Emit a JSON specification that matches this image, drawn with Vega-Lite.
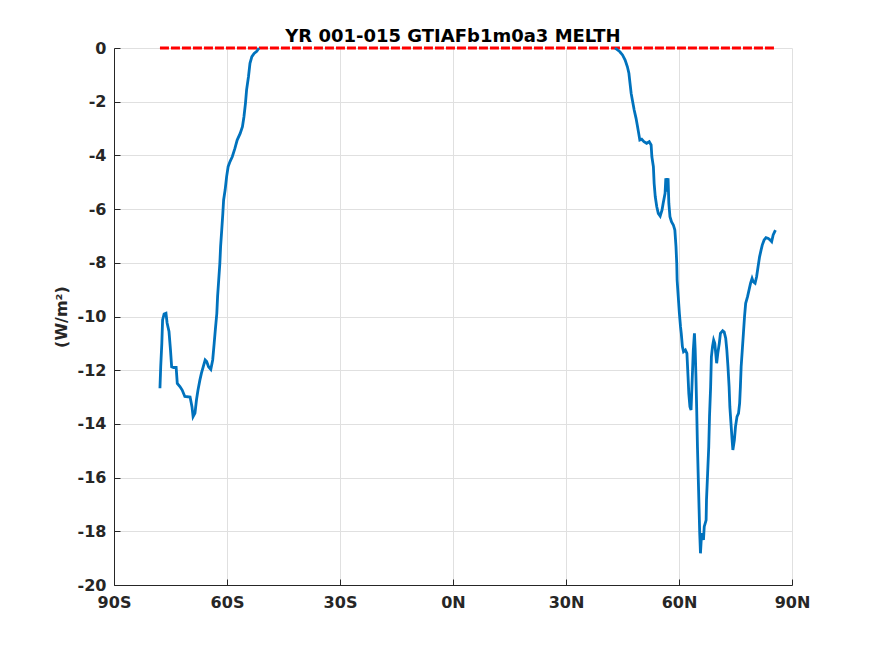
{
  "$schema": "https://vega.github.io/schema/vega-lite/v6.json",
  "autosize": {"type": "none"},
  "width": 678,
  "height": 537,
  "padding": {"left": 114, "top": 48, "right": 83, "bottom": 71},
  "background": "white",
  "title": {
    "text": "YR 001-015 GTIAFb1m0a3 MELTH",
    "font": "DejaVu Sans",
    "fontSize": 18,
    "fontWeight": "bold",
    "color": "#000000",
    "baseline": "alphabetic",
    "offset": 6,
    "dy": 26,
    "anchor": "middle"
  },
  "config": {
    "view": {"stroke": null},
    "axis": {
      "labelFont": "DejaVu Sans",
      "labelFontSize": 16,
      "labelFontWeight": "bold",
      "labelColor": "#262626",
      "titleFont": "DejaVu Sans",
      "titleFontSize": 16,
      "titleFontWeight": "bold",
      "titleColor": "#262626",
      "domainColor": "#262626",
      "domainWidth": 1,
      "tickColor": "#262626",
      "gridColor": "#e0e0e0",
      "gridWidth": 1
    }
  },
  "resolve": {"axis": {"x": "independent", "y": "independent"}},
  "datasets": {
    "melt": [
      {"seg": "S", "lat": -77.8, "v": -12.67},
      {"seg": "S", "lat": -77.6, "v": -11.87},
      {"seg": "S", "lat": -77.3, "v": -10.99},
      {"seg": "S", "lat": -77.1, "v": -10.13},
      {"seg": "S", "lat": -76.7, "v": -9.91},
      {"seg": "S", "lat": -76.2, "v": -9.88},
      {"seg": "S", "lat": -75.9, "v": -10.24},
      {"seg": "S", "lat": -75.4, "v": -10.56},
      {"seg": "S", "lat": -75.0, "v": -11.25},
      {"seg": "S", "lat": -74.7, "v": -11.87},
      {"seg": "S", "lat": -74.2, "v": -11.9},
      {"seg": "S", "lat": -73.5, "v": -11.9},
      {"seg": "S", "lat": -73.2, "v": -12.49},
      {"seg": "S", "lat": -72.5, "v": -12.61},
      {"seg": "S", "lat": -71.9, "v": -12.74},
      {"seg": "S", "lat": -71.2, "v": -12.98},
      {"seg": "S", "lat": -69.8, "v": -13.0},
      {"seg": "S", "lat": -69.3, "v": -13.36},
      {"seg": "S", "lat": -69.0, "v": -13.73},
      {"seg": "S", "lat": -68.5, "v": -13.6},
      {"seg": "S", "lat": -68.1, "v": -13.1},
      {"seg": "S", "lat": -67.7, "v": -12.74},
      {"seg": "S", "lat": -67.2, "v": -12.37},
      {"seg": "S", "lat": -66.8, "v": -12.12},
      {"seg": "S", "lat": -66.3, "v": -11.87},
      {"seg": "S", "lat": -65.8, "v": -11.62},
      {"seg": "S", "lat": -65.4, "v": -11.68},
      {"seg": "S", "lat": -64.9, "v": -11.87},
      {"seg": "S", "lat": -64.3, "v": -11.97},
      {"seg": "S", "lat": -63.8, "v": -11.62},
      {"seg": "S", "lat": -63.4, "v": -10.99},
      {"seg": "S", "lat": -63.1, "v": -10.5},
      {"seg": "S", "lat": -62.7, "v": -9.88},
      {"seg": "S", "lat": -62.5, "v": -9.26},
      {"seg": "S", "lat": -62.2, "v": -8.64},
      {"seg": "S", "lat": -61.9, "v": -8.02},
      {"seg": "S", "lat": -61.7, "v": -7.4},
      {"seg": "S", "lat": -61.4, "v": -6.78},
      {"seg": "S", "lat": -61.1, "v": -6.15},
      {"seg": "S", "lat": -60.9, "v": -5.66},
      {"seg": "S", "lat": -60.5, "v": -5.29},
      {"seg": "S", "lat": -60.1, "v": -4.79},
      {"seg": "S", "lat": -59.7, "v": -4.42},
      {"seg": "S", "lat": -59.2, "v": -4.23},
      {"seg": "S", "lat": -58.6, "v": -4.05},
      {"seg": "S", "lat": -57.9, "v": -3.74},
      {"seg": "S", "lat": -57.3, "v": -3.43},
      {"seg": "S", "lat": -56.5, "v": -3.18},
      {"seg": "S", "lat": -55.9, "v": -2.93},
      {"seg": "S", "lat": -55.5, "v": -2.56},
      {"seg": "S", "lat": -55.1, "v": -2.06},
      {"seg": "S", "lat": -54.8, "v": -1.56},
      {"seg": "S", "lat": -54.3, "v": -1.07},
      {"seg": "S", "lat": -53.9, "v": -0.57},
      {"seg": "S", "lat": -53.4, "v": -0.32},
      {"seg": "S", "lat": -52.8, "v": -0.2},
      {"seg": "S", "lat": -52.1, "v": -0.12},
      {"seg": "S", "lat": -51.5, "v": 0},
      {"seg": "N", "lat": 43.0, "v": 0},
      {"seg": "N", "lat": 44.3, "v": -0.14},
      {"seg": "N", "lat": 45.0, "v": -0.26},
      {"seg": "N", "lat": 45.7, "v": -0.45},
      {"seg": "N", "lat": 46.3, "v": -0.7},
      {"seg": "N", "lat": 46.7, "v": -0.94},
      {"seg": "N", "lat": 47.0, "v": -1.32},
      {"seg": "N", "lat": 47.3, "v": -1.69},
      {"seg": "N", "lat": 47.7, "v": -2.0},
      {"seg": "N", "lat": 48.1, "v": -2.31},
      {"seg": "N", "lat": 48.6, "v": -2.62},
      {"seg": "N", "lat": 49.0, "v": -2.93},
      {"seg": "N", "lat": 49.3, "v": -3.18},
      {"seg": "N", "lat": 49.6, "v": -3.43},
      {"seg": "N", "lat": 50.1, "v": -3.4},
      {"seg": "N", "lat": 50.7, "v": -3.49},
      {"seg": "N", "lat": 51.4, "v": -3.55},
      {"seg": "N", "lat": 52.1, "v": -3.49},
      {"seg": "N", "lat": 52.6, "v": -3.61},
      {"seg": "N", "lat": 52.8, "v": -4.05},
      {"seg": "N", "lat": 53.2, "v": -4.42},
      {"seg": "N", "lat": 53.4, "v": -5.04},
      {"seg": "N", "lat": 53.7, "v": -5.54},
      {"seg": "N", "lat": 54.1, "v": -5.91},
      {"seg": "N", "lat": 54.5, "v": -6.16},
      {"seg": "N", "lat": 55.0, "v": -6.26},
      {"seg": "N", "lat": 55.5, "v": -6.03},
      {"seg": "N", "lat": 55.8, "v": -5.78},
      {"seg": "N", "lat": 56.3, "v": -5.41},
      {"seg": "N", "lat": 56.5, "v": -4.85},
      {"seg": "N", "lat": 56.8, "v": -5.35},
      {"seg": "N", "lat": 57.1, "v": -4.85},
      {"seg": "N", "lat": 57.3, "v": -5.78},
      {"seg": "N", "lat": 57.6, "v": -6.28},
      {"seg": "N", "lat": 58.0, "v": -6.47},
      {"seg": "N", "lat": 58.5, "v": -6.59},
      {"seg": "N", "lat": 58.9, "v": -6.78},
      {"seg": "N", "lat": 59.2, "v": -7.4},
      {"seg": "N", "lat": 59.4, "v": -8.02},
      {"seg": "N", "lat": 59.5, "v": -8.64},
      {"seg": "N", "lat": 59.8, "v": -9.26},
      {"seg": "N", "lat": 60.1, "v": -9.88},
      {"seg": "N", "lat": 60.4, "v": -10.38},
      {"seg": "N", "lat": 60.6, "v": -10.63},
      {"seg": "N", "lat": 60.9, "v": -11.12},
      {"seg": "N", "lat": 61.2, "v": -11.31},
      {"seg": "N", "lat": 61.7, "v": -11.25},
      {"seg": "N", "lat": 62.1, "v": -11.37},
      {"seg": "N", "lat": 62.4, "v": -12.24},
      {"seg": "N", "lat": 62.6, "v": -12.86},
      {"seg": "N", "lat": 62.9, "v": -13.36},
      {"seg": "N", "lat": 63.2, "v": -13.48},
      {"seg": "N", "lat": 63.5, "v": -12.37},
      {"seg": "N", "lat": 63.8, "v": -11.25},
      {"seg": "N", "lat": 64.1, "v": -10.63},
      {"seg": "N", "lat": 64.3, "v": -11.25},
      {"seg": "N", "lat": 64.5, "v": -12.24},
      {"seg": "N", "lat": 64.7, "v": -13.48},
      {"seg": "N", "lat": 64.9, "v": -14.85},
      {"seg": "N", "lat": 65.2, "v": -16.46},
      {"seg": "N", "lat": 65.5, "v": -18.07},
      {"seg": "N", "lat": 65.7, "v": -18.82},
      {"seg": "N", "lat": 66.0, "v": -18.07},
      {"seg": "N", "lat": 66.5, "v": -18.32},
      {"seg": "N", "lat": 66.7, "v": -17.83},
      {"seg": "N", "lat": 67.2, "v": -17.58},
      {"seg": "N", "lat": 67.3, "v": -16.83},
      {"seg": "N", "lat": 67.6, "v": -15.84},
      {"seg": "N", "lat": 67.9, "v": -14.85},
      {"seg": "N", "lat": 68.1, "v": -13.73},
      {"seg": "N", "lat": 68.4, "v": -12.61},
      {"seg": "N", "lat": 68.6, "v": -11.5},
      {"seg": "N", "lat": 68.9, "v": -11.12},
      {"seg": "N", "lat": 69.2, "v": -10.88},
      {"seg": "N", "lat": 69.5, "v": -11.0},
      {"seg": "N", "lat": 70.0, "v": -11.74},
      {"seg": "N", "lat": 70.3, "v": -11.37},
      {"seg": "N", "lat": 70.7, "v": -11.0},
      {"seg": "N", "lat": 71.0, "v": -10.63},
      {"seg": "N", "lat": 71.6, "v": -10.53},
      {"seg": "N", "lat": 72.0, "v": -10.58},
      {"seg": "N", "lat": 72.4, "v": -10.81},
      {"seg": "N", "lat": 72.7, "v": -11.25},
      {"seg": "N", "lat": 73.0, "v": -11.87},
      {"seg": "N", "lat": 73.3, "v": -12.61},
      {"seg": "N", "lat": 73.5, "v": -13.36},
      {"seg": "N", "lat": 73.8, "v": -13.98},
      {"seg": "N", "lat": 74.1, "v": -14.6},
      {"seg": "N", "lat": 74.3, "v": -14.97},
      {"seg": "N", "lat": 74.7, "v": -14.6},
      {"seg": "N", "lat": 75.0, "v": -14.1},
      {"seg": "N", "lat": 75.4, "v": -13.73},
      {"seg": "N", "lat": 75.8, "v": -13.61},
      {"seg": "N", "lat": 76.1, "v": -13.23},
      {"seg": "N", "lat": 76.3, "v": -12.61},
      {"seg": "N", "lat": 76.5, "v": -11.87},
      {"seg": "N", "lat": 76.8, "v": -11.25},
      {"seg": "N", "lat": 77.1, "v": -10.63},
      {"seg": "N", "lat": 77.4, "v": -10.0},
      {"seg": "N", "lat": 77.7, "v": -9.51},
      {"seg": "N", "lat": 78.2, "v": -9.26},
      {"seg": "N", "lat": 78.6, "v": -9.01},
      {"seg": "N", "lat": 79.0, "v": -8.76},
      {"seg": "N", "lat": 79.4, "v": -8.58},
      {"seg": "N", "lat": 79.7, "v": -8.7},
      {"seg": "N", "lat": 80.2, "v": -8.76},
      {"seg": "N", "lat": 80.6, "v": -8.52},
      {"seg": "N", "lat": 81.0, "v": -8.14},
      {"seg": "N", "lat": 81.4, "v": -7.77},
      {"seg": "N", "lat": 81.8, "v": -7.52},
      {"seg": "N", "lat": 82.1, "v": -7.34},
      {"seg": "N", "lat": 82.6, "v": -7.15},
      {"seg": "N", "lat": 83.1, "v": -7.06},
      {"seg": "N", "lat": 83.7, "v": -7.09},
      {"seg": "N", "lat": 84.2, "v": -7.15},
      {"seg": "N", "lat": 84.6, "v": -7.21},
      {"seg": "N", "lat": 85.0, "v": -6.96},
      {"seg": "N", "lat": 85.6, "v": -6.78}
    ],
    "ref": [
      {"lat": -77.8, "v": 0},
      {"lat": 85.6, "v": 0}
    ]
  },
  "layer": [
    {
      "data": {"name": "ref"},
      "mark": {"type": "line", "color": "#ff0000", "strokeWidth": 3, "strokeDash": [9, 2], "clip": false},
      "encoding": {
        "x": {
          "field": "lat", "type": "quantitative",
          "scale": {"domain": [-90, 90], "nice": false, "zero": false},
          "axis": {
            "orient": "bottom",
            "values": [-90, -60, -30, 0, 30, 60, 90],
            "labelExpr": "datum.value < 0 ? (-datum.value) + 'S' : datum.value + 'N'",
            "title": null,
            "ticks": false,
            "labelPadding": 9,
            "labelFlush": false,
            "grid": true
          }
        },
        "y": {
          "field": "v", "type": "quantitative",
          "scale": {"domain": [-20, 0], "nice": false, "zero": false},
          "axis": {
            "orient": "left",
            "values": [0, -2, -4, -6, -8, -10, -12, -14, -16, -18, -20],
            "labelExpr": "'' + datum.value",
            "title": "(W/m²)",
            "titlePadding": 8,
            "ticks": false,
            "labelPadding": 8,
            "labelFlush": false,
            "grid": true
          }
        }
      }
    },
    {
      "data": {"name": "melt"},
      "mark": {"type": "line", "color": "#0072bd", "strokeWidth": 2.8, "clip": false},
      "encoding": {
        "x": {
          "field": "lat", "type": "quantitative",
          "scale": {"domain": [-90, 90], "nice": false, "zero": false},
          "axis": {
            "orient": "top",
            "offset": -537,
            "values": [-90, -60, -30, 0, 30, 60, 90],
            "labels": false,
            "domain": false,
            "grid": false,
            "ticks": true,
            "tickSize": 6,
            "title": null
          }
        },
        "y": {
          "field": "v", "type": "quantitative",
          "scale": {"domain": [-20, 0], "nice": false, "zero": false},
          "axis": {
            "orient": "right",
            "offset": -678,
            "values": [0, -2, -4, -6, -8, -10, -12, -14, -16, -18, -20],
            "labels": false,
            "domain": false,
            "grid": false,
            "ticks": true,
            "tickSize": 6,
            "title": null
          }
        },
        "detail": {"field": "seg"},
        "order": {"field": "lat", "type": "quantitative"}
      }
    }
  ]
}
